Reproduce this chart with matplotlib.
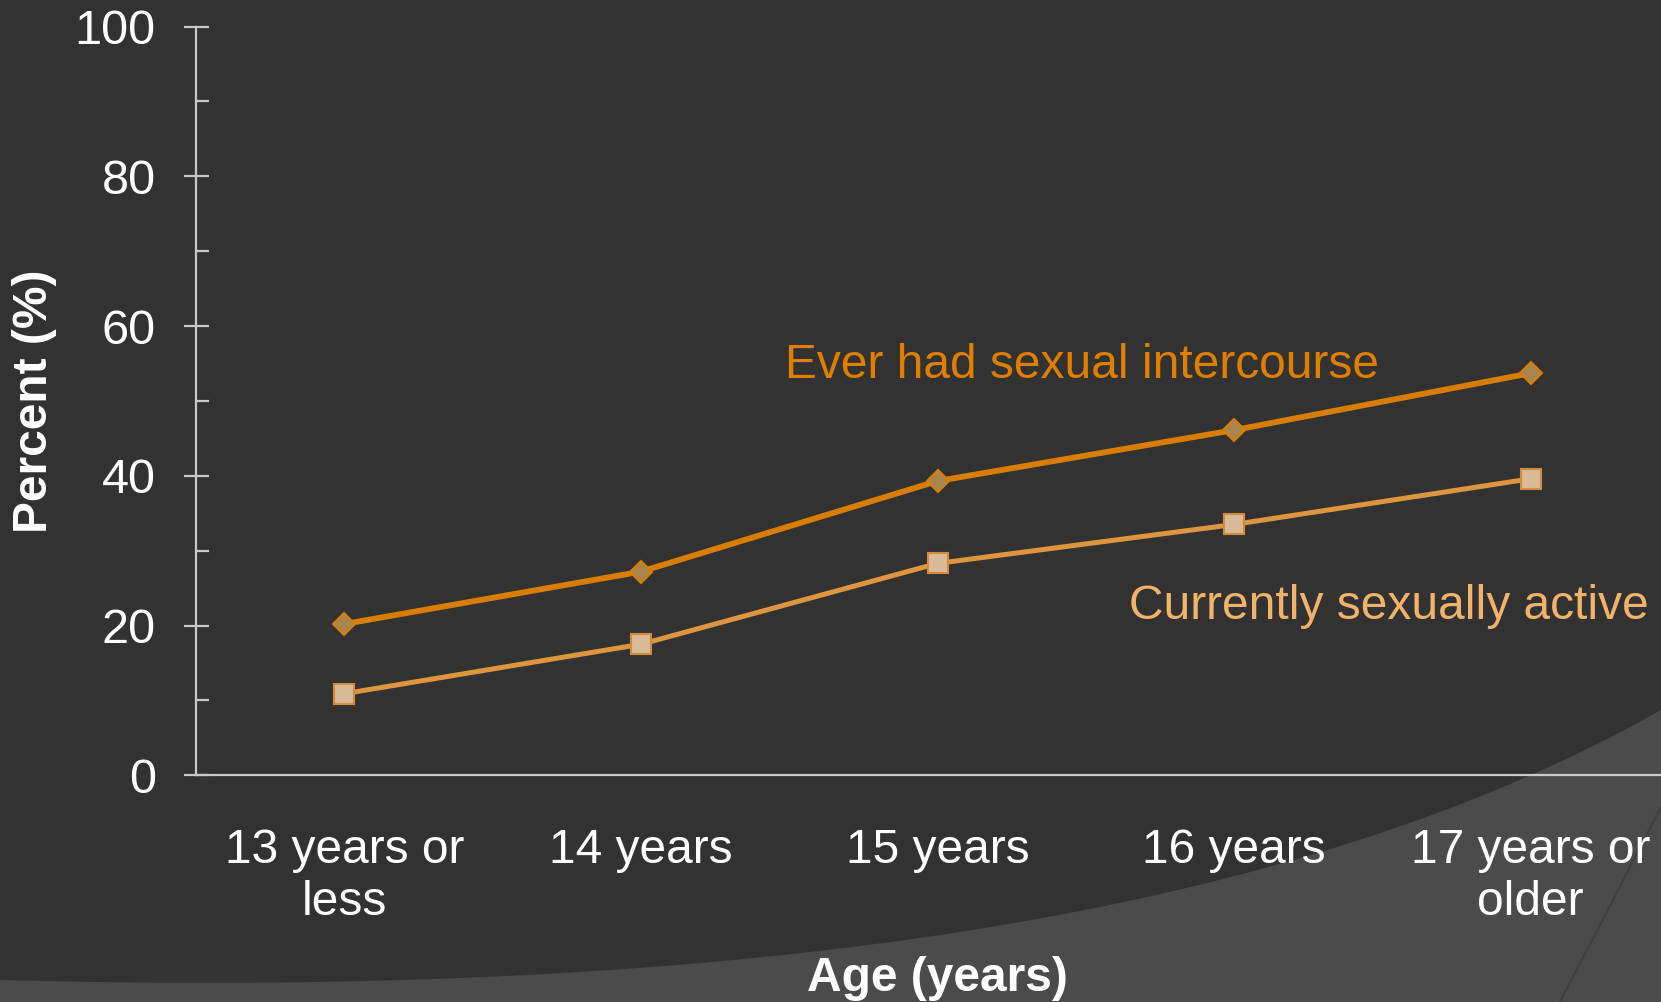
import numpy as np
import matplotlib
matplotlib.use("Agg")
import matplotlib.pyplot as plt
from matplotlib.patches import PathPatch
from matplotlib.path import Path

# Data
ages = ["13 years or\nless", "14 years", "15 years", "16 years", "17 years or\nolder"]
ever_had_sex = [20.2, 27.2, 39.3, 46.1, 53.7]
currently_active = [10.9, 17.5, 28.3, 33.5, 39.6]
y_ticks = [0, 20, 40, 60, 80, 100]

plt.rcParams['font.family'] = ['Liberation Sans', 'DejaVu Sans']

W, H = 1661, 1002
fig = plt.figure(figsize=(W / 100, H / 100), dpi=100, facecolor="#323232")


def fig_xy(pts):
    # pixel coordinates (top-left origin) -> figure fraction
    return [(px / W, 1 - py / H) for px, py in pts]


# Lighter swoosh shape in the lower right of the slide background
verts = fig_xy([(0, 980), (750, 1000), (1300, 915), (1661, 710),
                (1661, 1002), (0, 1002), (0, 980)])
codes = [Path.MOVETO, Path.CURVE4, Path.CURVE4, Path.CURVE4,
         Path.LINETO, Path.LINETO, Path.CLOSEPOLY]
fig.patches.append(PathPatch(Path(verts, codes), transform=fig.transFigure,
                             facecolor="#4b4b4b", edgecolor="none", zorder=-2))
edge = fig_xy([(1560, 1002), (1600, 925), (1661, 807)])
fig.patches.append(PathPatch(Path(edge, [Path.MOVETO, Path.CURVE3, Path.CURVE3]),
                             transform=fig.transFigure, facecolor="none",
                             edgecolor="#404040", lw=1.5, zorder=-1))

ax = fig.add_axes([196 / W, 1 - 775.3 / H, 1483 / W, (775.3 - 26.5) / H])
ax.set_facecolor("none")
ax.set_zorder(1)

x = np.arange(len(ages))
ax.plot(x, ever_had_sex, color="#d97d00", lw=4.2, marker="D", ms=11,
        markerfacecolor="#a88550", markeredgecolor="#d98000", markeredgewidth=1.5, zorder=3)
ax.plot(x, currently_active, color="#de953f", lw=3.6, marker="s", ms=14.5,
        markerfacecolor="#d8bb98", markeredgecolor="#d68b3a", markeredgewidth=1.5, zorder=3)

# Series labels placed next to the lines
ax.text(1.486, 54.7, "Ever had sexual intercourse", color="#e07e00",
        fontsize=34.5, ha="left", va="center")
ax.text(2.646, 22.5, "Currently sexually active", color="#f2b26a",
        fontsize=34.5, ha="left", va="center")

ax.set_xlim(-0.5, 4.5)
ax.set_ylim(0, 100)
ax.set_xticks(x)
ax.set_xticklabels(ages)
ax.set_yticks(y_ticks)
ax.set_yticks(np.arange(10, 100, 20), minor=True)

for side in ["top", "right"]:
    ax.spines[side].set_visible(False)
for side in ["left", "bottom"]:
    ax.spines[side].set_color("#c8c8c8")
    ax.spines[side].set_linewidth(1.6)

ax.tick_params(axis="y", which="major", direction="inout", length=18, width=1.6,
               color="#c8c8c8", labelsize=35, labelcolor="white", pad=20)
ax.tick_params(axis="y", which="minor", direction="in", length=9, width=1.6, color="#c8c8c8")
ax.tick_params(axis="x", length=0, labelsize=34.5, labelcolor="white", pad=38)

ax.set_ylabel("Percent (%)", fontsize=34.5, fontweight="bold", color="white", labelpad=13)
ax.set_xlabel("Age (years)", fontsize=34.5, fontweight="bold", color="white", labelpad=22)

fig.savefig("out.png", dpi=100, facecolor=fig.get_facecolor())
